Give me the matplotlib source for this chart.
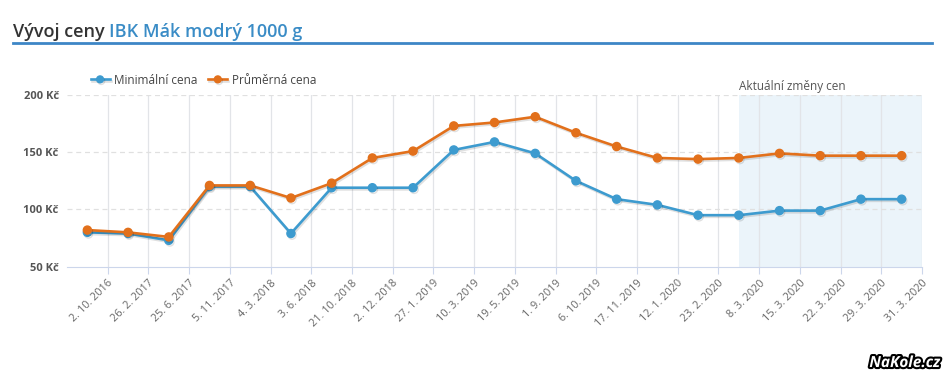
import matplotlib
matplotlib.use("Agg")
import matplotlib.pyplot as plt
import matplotlib.patheffects as pe
import numpy as np

dates = ['2. 10. 2016', '26. 2. 2017', '25. 6. 2017', '5. 11. 2017', '4. 3. 2018',
         '3. 6. 2018', '21. 10. 2018', '2. 12. 2018', '27. 1. 2019', '10. 3. 2019',
         '19. 5. 2019', '1. 9. 2019', '6. 10. 2019', '17. 11. 2019', '12. 1. 2020',
         '23. 2. 2020', '8. 3. 2020', '15. 3. 2020', '22. 3. 2020', '29. 3. 2020',
         '31. 3. 2020']
min_price = [80, 79, 73, 120, 120, 79, 119, 119, 119, 152, 159, 149, 125, 109, 104,
             95, 95, 99, 99, 109, 109]
avg_price = [82, 80, 76, 121, 121, 110, 123, 145, 151, 173, 176, 181, 167, 155, 145,
             144, 145, 149, 147, 147, 147]
yticks = [50, 100, 150, 200]
recent_start = 16  # index of first "Aktuální změny cen" point

BLUE = '#3d9bcf'
ORANGE = '#e2701b'
FONT = ['Open Sans', 'DejaVu Sans']
plt.rcParams['font.family'] = FONT

fig = plt.figure(figsize=(9.5, 3.77), dpi=100)
ax = fig.add_axes([67 / 950, 1 - 266.7 / 377, 855 / 950, 171.7 / 377])

x = np.arange(len(dates))
n = len(dates)

# shaded band for recent changes
ax.axvspan(recent_start, n - 0.5, color='#ebf4fa', zorder=0, lw=0)

# grid
for b in np.arange(0.5, n, 1.0):
    ax.axvline(b, color='#e2e4e8', lw=0.9, zorder=1)
for v in yticks[1:]:
    ax.axhline(v, color='#e0e0e0', lw=0.9, ls=(0, (4, 3)), zorder=1)

shadow = [pe.SimpleLineShadow(offset=(0.8, -1.2), alpha=0.12, shadow_color='k'), pe.Normal()]
ax.plot(x, min_price, '-o', color=BLUE, lw=1.9, ms=5.8, zorder=3,
        label='Minimální cena', path_effects=shadow)
ax.plot(x, avg_price, '-o', color=ORANGE, lw=1.9, ms=5.8, zorder=4,
        label='Průměrná cena', path_effects=shadow)

ax.set_xlim(-0.5, n - 0.5)
ax.set_ylim(50, 200)

ax.set_yticks(yticks)
ax.set_yticklabels([f'{v} Kč' for v in yticks], fontsize=8, fontweight='bold', color='#555555')
ax.tick_params(axis='y', length=0, pad=6)

ax.set_xticks(x + 0.5)
ax.set_xticklabels(dates, rotation=45, ha='right', rotation_mode='anchor',
                   fontsize=7.8, color='#666666')
ax.tick_params(axis='x', length=5, color='#ccd6eb', pad=3)

for s in ['top', 'left', 'right']:
    ax.spines[s].set_visible(False)
ax.spines['bottom'].set_color('#ccd6eb')

ax.text(recent_start, 207, 'Aktuální změny cen', fontsize=8.5, color='#555555',
        ha='left', va='center')

fig.legend(loc='center left', bbox_to_anchor=(80 / 950, 1 - 80 / 377), ncol=2,
           frameon=False, fontsize=8.5, handlelength=1.6, handletextpad=0.4,
           columnspacing=0.9, labelcolor='#444444', markerscale=0.85)

# title
t1 = fig.text(13 / 950, 1 - 37 / 377, 'Vývoj ceny ', fontsize=13, fontweight='semibold',
              color='#333333', va='baseline')
fig.canvas.draw()
bb = t1.get_window_extent()
fig.text(bb.x1 / fig.bbox.width, 1 - 37 / 377, 'IBK Mák modrý 1000 g', fontsize=13,
         fontweight='semibold', color='#3a8cc6', va='baseline')
fig.add_artist(plt.Line2D([13 / 950, 932 / 950], [1 - 42.5 / 377] * 2,
                          color='#3d86c6', lw=2))

# watermark
fig.text(940 / 950, 1 - 363 / 377, 'NaKole.cz', fontsize=11, fontweight='bold',
         fontstyle='italic', color='white', ha='right', va='center',
         path_effects=[pe.withStroke(linewidth=3, foreground='black')])

fig.savefig('out.png', dpi=100, facecolor='white')
